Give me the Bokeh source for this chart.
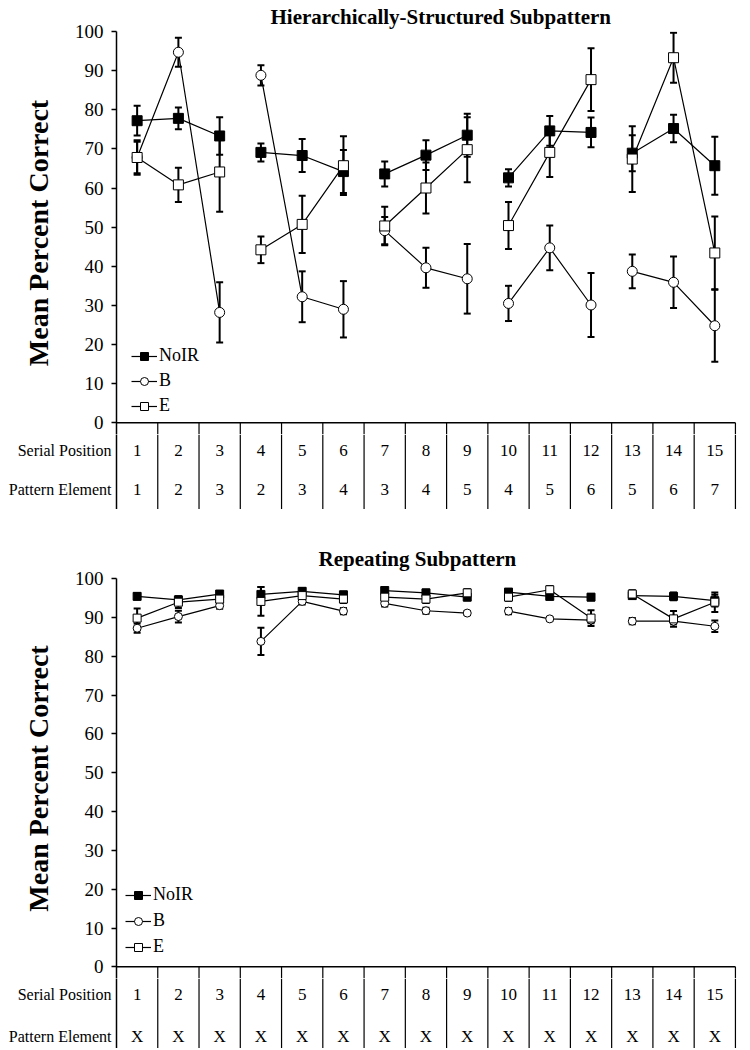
import math
from bokeh.plotting import figure
from bokeh.models import (ColumnDataSource, Whisker, TeeHead, FixedTicker,
                          Range1d, Legend, LegendItem)
from bokeh.layouts import column
from bokeh.embed import file_html
from bokeh.resources import INLINE
from bokeh.core.properties import value

# ---------------- data ----------------
serial_position = list(range(1, 16))
pattern_element_hier = ["1", "2", "3", "2", "3", "4", "3", "4", "5", "4", "5", "6", "5", "6", "7"]
pattern_element_rep = ["X"] * 15
series_names = ["NoIR", "B", "E"]
row_labels = ["Serial Position", "Pattern Element"]
y_ticks = [0, 10, 20, 30, 40, 50, 60, 70, 80, 90, 100]
y_label = "Mean Percent Correct"
title_hier = "Hierarchically-Structured Subpattern"
title_rep = "Repeating Subpattern"

# Hierarchically-structured subpattern (top)
noir_hier = [77.2, 77.8, 73.3, 69.1, 68.3, 64.2, 63.6, 68.4, 73.5, 62.6, 74.6, 74.2, 68.9, 75.2, 65.7]
noir_hier_err = [3.8, 2.8, 4.8, 2.3, 4.2, 5.5, 3.2, 3.8, 5.5, 2.2, 3.8, 3.8, 4.6, 3.5, 7.4]
b_hier = [67.8, 94.7, 28.2, 88.8, 32.2, 29.0, 49.1, 39.6, 36.8, 30.5, 44.7, 30.1, 38.7, 35.9, 24.8]
b_hier_err = [4.0, 3.7, 7.7, 2.6, 6.5, 7.2, 3.5, 5.1, 8.9, 4.5, 5.7, 8.2, 4.3, 6.6, 9.2]
e_hier = [67.8, 60.8, 64.1, 44.2, 50.7, 65.7, 50.3, 60.0, 69.8, 50.4, 69.1, 87.7, 67.4, 93.3, 43.4]
e_hier_err = [4.4, 4.4, 10.2, 3.4, 7.3, 7.5, 4.9, 6.5, 8.3, 6.0, 6.3, 8.0, 8.4, 6.4, 9.3]

# Repeating subpattern (bottom)
noir_rep = [95.4, 94.5, 96.0, 95.9, 96.7, 95.8, 96.9, 96.3, 95.2, 96.5, 95.4, 95.2, 95.6, 95.4, 94.3]
noir_rep_err = [0.8, 0.8, 0.8, 1.9, 0.8, 0.8, 0.8, 0.8, 0.8, 0.8, 0.8, 0.8, 0.8, 1.0, 1.5]
b_rep = [87.2, 90.2, 93.0, 83.8, 94.1, 91.6, 93.6, 91.7, 91.1, 91.6, 89.6, 89.3, 89.0, 89.0, 87.7]
b_rep_err = [1.2, 1.5, 0.8, 3.5, 0.8, 0.8, 0.8, 0.8, 0.5, 0.8, 0.5, 0.8, 0.8, 0.8, 1.5]
e_rep = [89.8, 93.9, 94.7, 94.1, 95.6, 94.7, 95.2, 94.7, 96.3, 95.2, 97.1, 89.8, 96.0, 89.6, 93.9]
e_rep_err = [2.5, 1.5, 1.0, 3.7, 1.0, 1.0, 1.0, 1.0, 1.0, 1.0, 1.0, 2.0, 1.0, 2.0, 2.5]

GROUP = 3
SERIF = "'Liberation Serif', 'Times New Roman', 'DejaVu Serif', serif"

STYLES = {
    "NoIR": dict(marker="square", fill_color="black"),
    "B": dict(marker="circle", fill_color="white"),
    "E": dict(marker="square", fill_color="white"),
}

W = 742
BL, BR = 116, 5
X_START, X_END = 0.5, 15.55
Y_CUT = -3  # plot frame extends slightly below 0; the table continues below


def gapped(xs, ys):
    gx, gy = [], []
    for g in range(0, len(xs), GROUP):
        gx += list(xs[g:g + GROUP]) + [float("nan")]
        gy += list(ys[g:g + GROUP]) + [float("nan")]
    return gx, gy


def base_fig(height, y_range, top, bottom, title=None):
    p = figure(width=W, height=height, x_range=Range1d(X_START, X_END),
               y_range=y_range, x_axis_location=None, y_axis_location="left",
               toolbar_location=None, title=title, output_backend="svg",
               min_border_left=BL, min_border_right=BR, min_border_top=top,
               min_border_bottom=bottom, outline_line_color=None,
               background_fill_color="white", border_fill_color="white")
    p.grid.visible = False
    ax = p.yaxis[0]
    ax.minor_tick_out = 0
    ax.minor_tick_in = 0
    ax.major_tick_in = 0
    ax.axis_line_width = 1.5
    ax.axis_line_color = "black"
    ax.major_label_text_font = SERIF
    ax.major_label_text_color = "black"
    return p


def make_plot(title, series, g):
    frame_h = g["frame_h"]
    p = base_fig(g["top"] + frame_h, Range1d(Y_CUT, 100), g["top"], 0, title)

    t = p.title
    t.align = "left"
    t.offset = g["title_offset"]
    t.standoff = g["title_standoff"]
    t.text_font = SERIF
    t.text_font_style = "bold"
    t.text_font_size = "21px"
    t.text_color = "black"

    ax = p.yaxis[0]
    ax.ticker = FixedTicker(ticks=y_ticks)
    ax.major_tick_out = 5
    ax.major_label_standoff = 8
    ax.major_tick_line_width = 1.5
    ax.major_tick_line_color = "black"
    ax.major_label_text_font_size = "19px"
    ax.axis_label = y_label
    ax.axis_label_text_font = SERIF
    ax.axis_label_text_font_style = "bold"
    ax.axis_label_text_font_size = "28px"
    ax.axis_label_text_color = "black"
    ax.axis_label_standoff = 18

    n = len(serial_position)
    bounds = [s + 0.5 for s in serial_position]
    p.segment(x0=[serial_position[0] - 0.5], y0=[0], x1=[serial_position[-1] + 0.5], y1=[0],
              line_color="black", line_width=1.5)
    p.segment(x0=bounds, y0=[0] * n, x1=bounds, y1=[Y_CUT] * n,
              line_color="black", line_width=1.2)

    items = []
    for name, (vals, errs) in zip(series_names, series):
        st = STYLES[name]
        gx, gy = gapped(serial_position, vals)
        lr = p.line(gx, gy, line_color="black", line_width=1.2)
        src = ColumnDataSource(dict(x=serial_position,
                                    upper=[v + e for v, e in zip(vals, errs)],
                                    lower=[v - e for v, e in zip(vals, errs)]))
        p.add_layout(Whisker(source=src, base="x", upper="upper", lower="lower",
                             dimension="height", line_width=2, line_color="black",
                             upper_head=TeeHead(size=7, line_width=2, line_color="black"),
                             lower_head=TeeHead(size=7, line_width=2, line_color="black")))
        sr = p.scatter(serial_position, vals, marker=st["marker"], size=g["msize"],
                       fill_color=st["fill_color"], line_color="black", line_width=1)
        items.append(LegendItem(label=name, renderers=[lr, sr]))

    legend = Legend(items=items, location=g["legend"], background_fill_alpha=0,
                    border_line_alpha=0, padding=0, margin=0, spacing=g["lspacing"],
                    glyph_width=26, glyph_height=20, label_height=20, label_standoff=2,
                    label_text_font=SERIF, label_text_font_size="18px",
                    label_text_color="black")
    p.add_layout(legend)
    return p


def make_table(pattern, g):
    h = g["table_h"]
    ppu_y = g["frame_h"] / (100 - Y_CUT)
    y_bottom = Y_CUT - h / ppu_y
    p = base_fig(h, Range1d(y_bottom, Y_CUT), 0, 0)
    ax = p.yaxis[0]
    rows = [g["row1"], g["row2"]]
    ax.ticker = FixedTicker(ticks=rows)
    ax.major_label_overrides = {r: lab for r, lab in zip(rows, row_labels)}
    ax.major_tick_out = 0
    ax.major_tick_line_color = None
    ax.major_label_standoff = 5
    ax.major_label_text_font_size = "16px"

    n = len(serial_position)
    bounds = [s + 0.5 for s in serial_position]
    p.segment(x0=bounds, y0=[Y_CUT] * n, x1=bounds, y1=[y_bottom] * n,
              line_color="black", line_width=1.2)
    p.text(x=serial_position, y=[g["row1"]] * n, text=[str(s) for s in serial_position],
           text_align="center", text_baseline="middle", text_font=value(SERIF),
           text_font_size="17px", text_color="black")
    p.text(x=serial_position, y=[g["row2"]] * n, text=pattern,
           text_align="center", text_baseline="middle", text_font=value(SERIF),
           text_font_size="17px", text_color="black")
    return p


geom_top = dict(top=29, frame_h=405, table_h=75, row1=-7, row2=-17,
                legend=(15, 18), lspacing=4, msize=10, title_offset=154,
                title_standoff=5)
geom_bot = dict(top=69, frame_h=400, table_h=70, row1=-7, row2=-18,
                legend=(9, 21), lspacing=5, msize=8, title_offset=202,
                title_standoff=16)

p1 = make_plot(title_hier, [(noir_hier, noir_hier_err), (b_hier, b_hier_err), (e_hier, e_hier_err)],
               geom_top)
t1 = make_table(pattern_element_hier, geom_top)
p2 = make_plot(title_rep, [(noir_rep, noir_rep_err), (b_rep, b_rep_err), (e_rep, e_rep_err)],
               geom_bot)
t2 = make_table(pattern_element_rep, geom_bot)

layout = column(p1, t1, p2, t2, spacing=0)
open("out.html", "w").write(file_html(layout, INLINE))
